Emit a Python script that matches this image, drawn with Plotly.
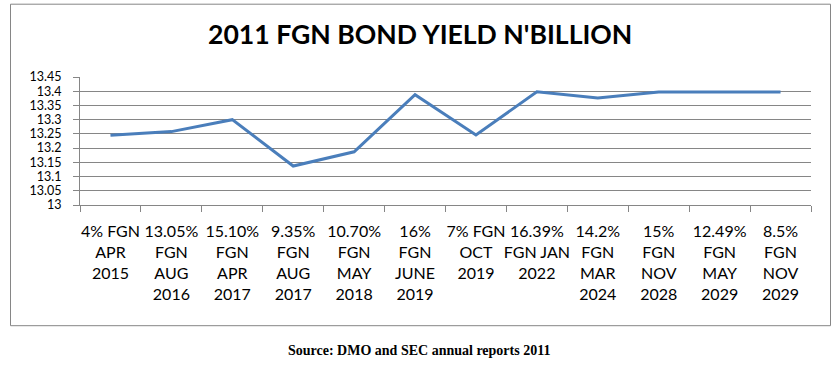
import plotly.graph_objects as go

categories = [
    "4% FGN<br>APR<br>2015",
    "13.05%<br>FGN<br>AUG<br>2016",
    "15.10%<br>FGN<br>APR<br>2017",
    "9.35%<br>FGN<br>AUG<br>2017",
    "10.70%<br>FGN<br>MAY<br>2018",
    "16%<br>FGN<br>JUNE<br>2019",
    "7% FGN<br>OCT<br>2019",
    "16.39%<br>FGN JAN<br>2022",
    "14.2%<br>FGN<br>MAR<br>2024",
    "15%<br>FGN<br>NOV<br>2028",
    "12.49%<br>FGN<br>MAY<br>2029",
    "8.5%<br>FGN<br>NOV<br>2029",
]
yields = [13.245, 13.258, 13.30, 13.137, 13.187, 13.388, 13.246, 13.398, 13.376, 13.397, 13.397, 13.397]
y_tick_values = [13.0, 13.05, 13.1, 13.15, 13.2, 13.25, 13.3, 13.35, 13.4, 13.45]
y_tick_labels = ["13", "13.05", "13.1", "13.15", "13.2", "13.25", "13.3", "13.35", "13.4", "13.45"]

title_text = "2011 FGN BOND YIELD N'BILLION"
source_text = "Source: DMO and SEC annual reports 2011"

grid = "#868686"
fig = go.Figure()
fig.add_trace(go.Scatter(
    x=categories, y=yields, mode="lines",
    line=dict(color="#4a7ebb", width=3),
    hoverinfo="x+y",
))

# plot area geometry (px)
L, R, T, B = 80, 811, 77.3, 205.3
W, H = R - L, B - T
def px_x(p):
    return (p - L) / W
def px_y(p):
    return (B - p) / H

fig.update_layout(
    width=838, height=365,
    margin=dict(l=L, r=838 - R, t=T, b=365 - B),
    paper_bgcolor="white", plot_bgcolor="white",
    showlegend=False,
    font=dict(family="Lato", color="black"),
    xaxis=dict(
        type="category", tickson="boundaries", range=[-0.5, len(categories) - 0.5],
        showline=True, linecolor=grid, linewidth=1,
        ticks="outside", ticklen=6, tickcolor=grid,
        showgrid=False, tickangle=0,
        tickfont=dict(family="Lato", size=16, color="black"),
        ticklabelstandoff=12,
    ),
    yaxis=dict(
        range=[13.0, 13.45], tickvals=y_tick_values, ticktext=y_tick_labels,
        showline=True, linecolor=grid, linewidth=1,
        ticks="outside", ticklen=6, tickcolor=grid,
        showgrid=True, gridcolor=grid, gridwidth=1,
        zeroline=False,
        tickfont=dict(family="Lato", size=12.5, color="black"),
        ticklabelstandoff=9,
    ),
    shapes=[dict(
        type="rect", xref="paper", yref="paper",
        x0=px_x(10.5), x1=px_x(830.5), y0=px_y(326), y1=px_y(4.5),
        line=dict(color=grid, width=1), fillcolor="rgba(0,0,0,0)", layer="below",
    )],
    annotations=[
        dict(text="<b>" + title_text + "</b>", xref="paper", yref="paper",
             x=px_x(420), y=px_y(34), xanchor="center", yanchor="middle",
             showarrow=False, font=dict(family="Lato", size=26.6, color="black")),
        dict(text="<b>" + source_text + "</b>", xref="paper", yref="paper",
             x=px_x(418.5), y=px_y(351), xanchor="center", yanchor="middle",
             showarrow=False, font=dict(family="Liberation Serif", size=14, color="black")),
    ],
)

fig.write_html("out.html", config={"displayModeBar": False},
               post_script="document.body.style.margin='0';document.body.style.padding='0';")
